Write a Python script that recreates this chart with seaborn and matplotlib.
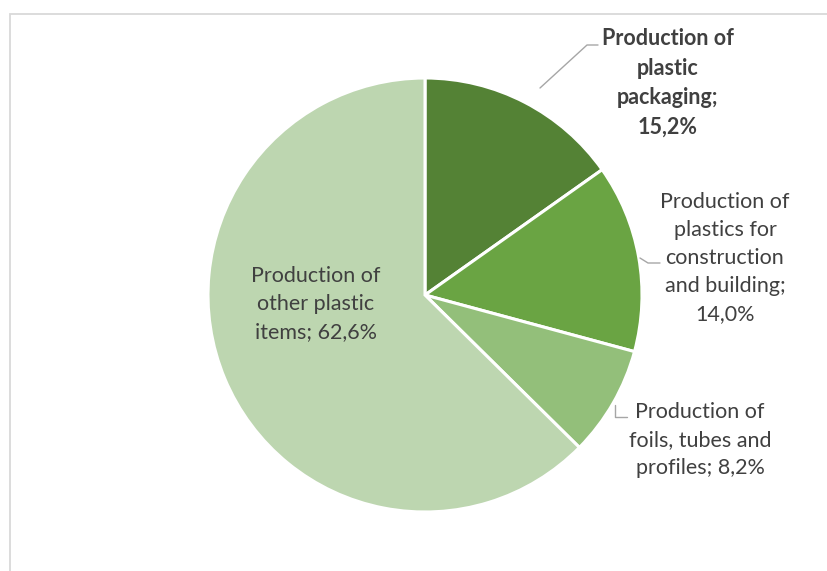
import matplotlib
matplotlib.use("Agg")
import matplotlib.pyplot as plt
from matplotlib.lines import Line2D
from matplotlib.patches import Rectangle
import seaborn as sns

# Shares of plastics production by product group (%)
categories = [
    "Production of\nplastic\npackaging;",
    "Production of\nplastics for\nconstruction\nand building;",
    "Production of\nfoils, tubes and\nprofiles;",
    "Production of\nother plastic\nitems;",
]
shares = [15.2, 14.0, 8.2, 62.6]
colors = ["#548235", "#6aa443", "#93bf7a", "#bdd6b0"]

sns.set_theme(style="white")
plt.rcParams["font.family"] = ["Lato", "DejaVu Sans"]

W, H = 827, 571
fig = plt.figure(figsize=(W / 100, H / 100), dpi=100)
fig.patch.set_facecolor("white")

# chart-area frame (open to the right and bottom)
fig.add_artist(Rectangle((10 / W, -0.1), 1.2, (H - 13.5) / H + 0.1,
                         transform=fig.transFigure, fill=False,
                         edgecolor="#d9d9d9", linewidth=1.3))

cx, cy, r = 425, 295, 217
ax = fig.add_axes([(cx - r) / W, (H - cy - r) / H, 2 * r / W, 2 * r / H])
ax.pie(shares, colors=colors, startangle=90, counterclock=False, radius=1,
       wedgeprops=dict(edgecolor="white", linewidth=2.2))
ax.set_xlim(-1, 1)
ax.set_ylim(-1, 1)
ax.set_aspect("equal")
ax.axis("off")


def px(x, y):
    return (x - cx) / r, (cy - y) / r


def fmt(v):
    return f"{v:.1f}".replace(".", ",") + "%"


label_pos = [px(668, 83), px(725, 258), px(700, 440), px(316, 304)]
txt_color = "#404040"
for i, (cat, val) in enumerate(zip(categories, shares)):
    x, y = label_pos[i]
    sep = "\n" if i < 2 else " "
    ax.text(x, y, f"{cat}{sep}{fmt(val)}", ha="center", va="center",
            fontsize=15.5, color=txt_color, linespacing=1.5,
            fontweight="bold" if i == 0 else "normal", clip_on=False)

# leader lines
leaders = [
    [(540, 88), (587, 45), (598, 45)],
    [(640, 258), (648, 263), (660, 263)],
    [(615, 405), (615, 417), (627, 417)],
]
for pts in leaders:
    xs, ys = zip(*[px(*p) for p in pts])
    ax.add_line(Line2D(xs, ys, color="#a6a6a6", linewidth=1.0, clip_on=False))

fig.savefig("out.png", dpi=100, facecolor="white")
